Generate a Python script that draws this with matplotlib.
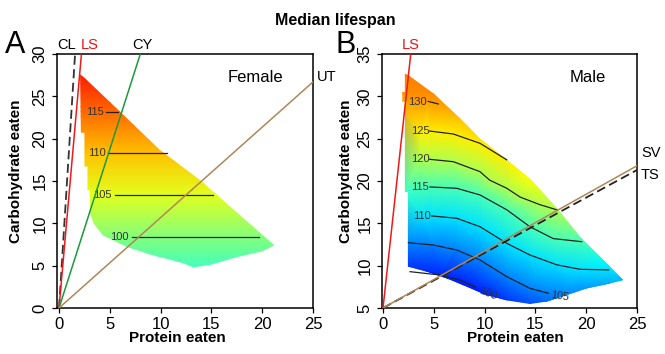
import matplotlib
matplotlib.use('Agg')
import matplotlib.pyplot as plt
import matplotlib.tri as mtri
from matplotlib.colors import LinearSegmentedColormap, Normalize
from matplotlib.patches import Polygon
import numpy as np

plt.rcParams['font.family'] = ['Liberation Sans', 'DejaVu Sans']

# ---------------- A : female ----------------
# outline of the fitted surface (protein, carbohydrate)
fem_edge_x = [2.07, 2.5, 6.0, 9.9, 13.9, 17.5, 21.2, 20.0, 17.5, 14.9, 13.2, 12.2,
              9.0, 6.7, 4.3, 3.4, 3.05, 3.05, 2.8, 2.8, 2.5, 2.5, 2.15]
fem_edge_y = [27.6, 27.2, 23.2, 18.7, 15.1, 11.3, 7.4, 6.7, 6.0, 5.1, 4.8, 5.3,
              6.3, 7.2, 8.6, 10.0, 11.2, 13.9, 13.9, 16.7, 16.7, 20.7, 20.7]
# lifespan vs carbohydrate (surface is flat along protein)
fem_field_y = [4.5, 8.34, 13.35, 18.26, 23.2, 28.0]
fem_field_v = [96.3, 100, 105, 110, 115, 119.8]
# contour lines
fem_levels = [100, 105, 110, 115]
fem_level_y = [8.34, 13.35, 18.26, 23.2]
fem_level_x0 = [7.15, 5.5, 4.85, 4.63]
fem_level_x1 = [19.7, 15.2, 10.6, 5.84]
fem_label_x = [5.9, 4.28, 3.75, 3.54]
fem_color_nodes = [78, 93, 106.5, 121]
# diet rails (carb / protein)
fem_diets = ['CL', 'LS', 'CY', 'UT']
fem_diet_slope = [19.0, 13.6, 3.75, 1.068]

# ---------------- B : male ----------------
male_edge_x = [2.15, 2.5, 4.95, 7.57, 9.55, 12.18, 14.6, 17.1, 19.4, 22.0, 23.65, 22.3,
               20.0, 18.0, 16.1, 14.46, 12.18, 10.2, 7.9, 6.27, 4.3, 2.45, 2.45, 2.15,
               2.15, 1.9, 1.9, 2.15]
male_edge_y = [32.7, 32.5, 30.36, 27.4, 25.0, 22.5, 20.1, 16.8, 13.4, 10.3, 8.3, 7.9,
               7.3, 6.5, 5.75, 5.47, 5.9, 6.5, 7.7, 8.5, 9.3, 9.9, 18.7, 18.7,
               29.4, 29.4, 30.5, 30.5]
male_edge_v = [132, 132, 131.3, 128, 125.8, 125, 123.6, 120.2, 116, 111.2, 108, 107.3,
               106.2, 105, 103.5, 102.2, 100.8, 99.9, 99.2, 99.7, 100.3, 100.8, 114.3, 114.3,
               130, 130, 131, 131]

male_levels = [100, 105, 110, 115, 120, 125, 130]
male_lines_x = [
    [2.66, 5.6, 7.6, 9.06],
    [2.5, 4.95, 7.25, 9.55, 12.18, 14.46, 16.27],
    [4.8, 7.25, 9.55, 12.18, 14.46, 17.1, 19.4, 22.2],
    [4.63, 7.25, 9.55, 12.18, 14.46, 16.75, 19.56],
    [4.6, 6.92, 9.55, 10.5, 12.18, 13.5, 15.45, 17.1],
    [4.6, 6.92, 9.55, 12.18],
    [4.46, 5.44],
]
male_lines_y = [
    [9.29, 8.9, 8.3, 7.5],
    [12.71, 12.44, 11.85, 10.67, 8.7, 7.33, 6.74],
    [15.87, 15.6, 14.6, 12.64, 11.26, 10.1, 9.57, 9.5],
    [19.3, 19.14, 18.35, 16.6, 14.6, 13.2, 12.83],
    [22.56, 22.28, 21.1, 20.1, 19.14, 18.1, 17.2, 16.6],
    [25.9, 25.55, 24.45, 22.5],
    [29.4, 29.1],
]
male_label_x = [10.3, 17.4, 3.8, 3.64, 3.64, 3.64, 3.4]
male_label_y = [6.65, 6.33, 15.87, 19.25, 22.56, 25.9, 29.37]
male_label_rot = [-22, -8, 0, 0, 0, 0, 0]
male_color_nodes = [98, 111.5, 124, 140]

male_diets = ['LS', 'SV', 'TS']
male_diet_slope = [10.99, 0.672, 0.652]


def ramp(nodes):
    lo, hi = nodes[0], nodes[-1]
    pos = [(v - lo) / (hi - lo) for v in nodes]
    cm = LinearSegmentedColormap.from_list(
        'r', list(zip(pos, ['#0000ff', '#00ffff', '#ffff00', '#ff0000'])))
    return cm, Normalize(lo, hi)


def surface(ax, px, py, pv, ex, ey, nodes):
    cm, nrm = ramp(nodes)
    clip = Polygon(np.column_stack([ex, ey]), closed=True, facecolor='none', edgecolor='none')
    ax.add_patch(clip)
    tri = mtri.Triangulation(px, py)
    tp = ax.tripcolor(tri, pv, shading='gouraud', cmap=cm, norm=nrm, zorder=1)
    tp.set_clip_path(clip)


def style(ax, xl, yl, yticks, ylab_x, xlab_x):
    ax.set_xlim(*xl)
    ax.set_ylim(*yl)
    ax.set_xticks([0, 5, 10, 15, 20, 25])
    ax.set_yticks(yticks)
    ax.tick_params(direction='out', length=3.8, width=0.9, labelsize=12, pad=3)
    ax.tick_params(axis='y', labelrotation=90)
    plt.setp(ax.get_yticklabels(), va='center')
    for s in ax.spines.values():
        s.set_linewidth(1.1)
    ax.set_xlabel('Protein eaten', fontweight='bold', fontsize=11)
    ax.set_ylabel('Carbohydrate eaten', fontweight='bold', fontsize=11)
    ax.xaxis.set_label_coords(xlab_x, -0.12)
    ax.xaxis.label.set_va('center')
    ax.yaxis.set_label_coords(ylab_x, 0.54)
    ax.yaxis.label.set_va('center')


fig = plt.figure(figsize=(6.65, 3.54), dpi=100)
axA = fig.add_axes([57 / 665, 46 / 354, 256 / 665, 254 / 354])
axB = fig.add_axes([382 / 665, 46 / 354, 255 / 665, 254 / 354])

# ---- panel A
fx = [-1] * len(fem_field_y) + [26] * len(fem_field_y)
fy = fem_field_y + fem_field_y
fv = fem_field_v + fem_field_v
surface(axA, fx, fy, fv, fem_edge_x, fem_edge_y, fem_color_nodes)
for lev, y, x0, x1, lx in zip(fem_levels, fem_level_y, fem_level_x0, fem_level_x1, fem_label_x):
    axA.plot([x0, x1], [y, y], color='#222222', lw=0.9, zorder=2)
    axA.text(lx, y, str(lev), fontsize=8, ha='center', va='center', color='#333333', zorder=2)

fem_colors = ['#333333', '#f01818', '#1a9a3c', '#b08658']
for name, k, c in zip(fem_diets, fem_diet_slope, fem_colors):
    xe = min(25, 30 / k)
    if name == 'CL':
        axA.plot([0, xe], [0, k * xe], color=c, lw=1.3, dashes=(5, 2.5), zorder=3)
    else:
        axA.plot([0, xe], [0, k * xe], color=c, lw=1.1, zorder=3)
lab_pos = {'CL': (0.7, 31.1, 'center'), 'LS': (3.05, 31.1, 'center'),
           'CY': (8.2, 31.1, 'center'), 'UT': (25.35, 27.3, 'left')}
for name, c in zip(fem_diets, fem_colors):
    x, y, ha = lab_pos[name]
    axA.text(x, y, name, fontsize=10.5, ha=ha, va='center', clip_on=False,
             color='#ee1111' if name == 'LS' else 'black')
axA.text(19.3, 27.2, 'Female', fontsize=12, ha='center', va='center')
style(axA, (-0.2, 25), (0, 30), [0, 5, 10, 15, 20, 25, 30], -0.16, 0.47)

# ---- panel B
bx = list(male_edge_x)
by = list(male_edge_y)
bv = list(male_edge_v)
for lev, xs, ys, lx, ly in zip(male_levels, male_lines_x, male_lines_y, male_label_x, male_label_y):
    bx += xs + [lx]
    by += ys + [ly]
    bv += [lev] * (len(xs) + 1)
surface(axB, bx, by, bv, male_edge_x, male_edge_y, male_color_nodes)
for lev, xs, ys, lx, ly, r in zip(male_levels, male_lines_x, male_lines_y,
                                   male_label_x, male_label_y, male_label_rot):
    axB.plot(xs, ys, color='#222222', lw=0.9, zorder=2)
    axB.text(lx, ly, str(lev), fontsize=8, ha='center', va='center', rotation=r,
             color='#333333', zorder=2)

male_colors = ['#f01818', '#b08658', '#222222']
for name, k, c in zip(male_diets, male_diet_slope, male_colors):
    xe = min(25, 30 / k)
    if name == 'TS':
        axB.plot([0, xe], [5, 5 + k * xe], color=c, lw=1.3, dashes=(5, 2.5), zorder=3)
    else:
        axB.plot([0, xe], [5, 5 + k * xe], color=c, lw=1.1, zorder=4 if name == 'SV' else 3)
axB.text(2.75, 36.1, 'LS', fontsize=10.5, ha='center', va='center', color='#ee1111', clip_on=False)
axB.text(25.4, 23.3, 'SV', fontsize=10.5, ha='left', va='center', clip_on=False)
axB.text(25.4, 20.7, 'TS', fontsize=10.5, ha='left', va='center', clip_on=False)
axB.text(20.2, 32.2, 'Male', fontsize=12, ha='center', va='center')
style(axB, (-0.1, 25), (5, 35), [5, 10, 15, 20, 25, 30, 35], -0.14, 0.523)

fig.text(335 / 665, 1 - 20 / 354, 'Median lifespan', fontsize=11.5, fontweight='bold',
         ha='center', va='center')
fig.text(5 / 665, 1 - 45 / 354, 'A', fontsize=22, ha='left', va='center')
fig.text(335 / 665, 1 - 45 / 354, 'B', fontsize=22, ha='left', va='center')

fig.savefig('out.png', dpi=100)
